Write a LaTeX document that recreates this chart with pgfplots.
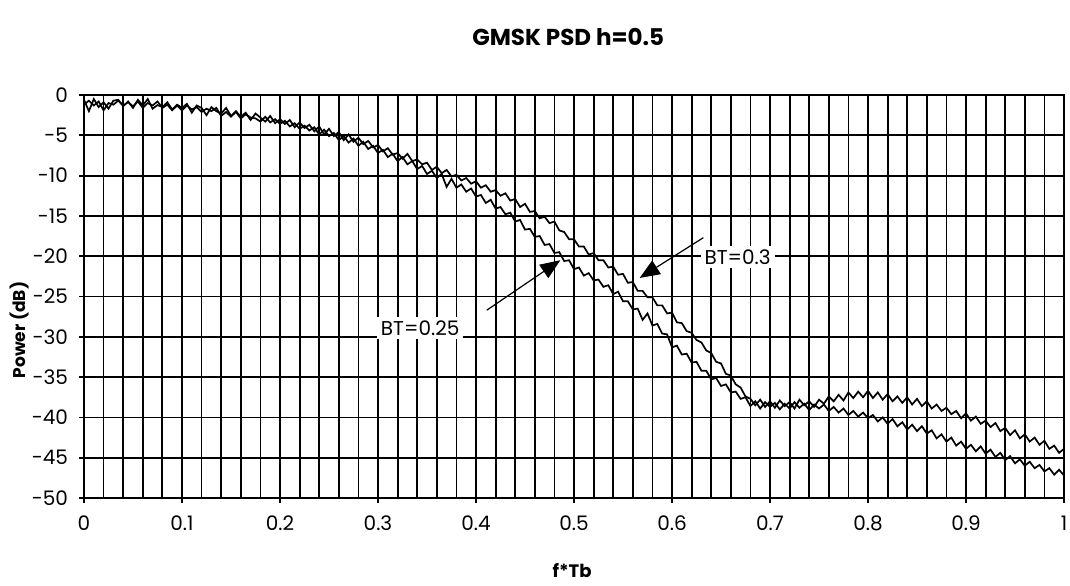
\documentclass[border=0pt]{standalone}
\usepackage{fontspec}
\setmainfont{Poppins}
\usepackage{pgfplots}
\pgfplotsset{compat=1.18}
\usepackage{pgfplotstable}
\usetikzlibrary{arrows.meta}

% BT=0.3 (upper curve in the roll-off region)
\pgfplotstableread{
x y
0.000 -0.6
0.005 -2.0
0.010 -0.5
0.015 -1.5
0.020 -0.9
0.025 -1.7
0.030 -0.7
0.035 -0.6
0.040 -1.4
0.045 -0.8
0.050 -1.6
0.055 -0.6
0.060 -1.3
0.065 -0.5
0.070 -1.7
0.075 -1.25
0.080 -1.5
0.085 -0.9
0.090 -1.8
0.095 -1.2
0.100 -1.6
0.105 -1.1
0.110 -2.2
0.115 -1.3
0.120 -1.6
0.125 -2.5
0.130 -1.5
0.135 -2.0
0.140 -2.3
0.145 -1.6
0.150 -2.6
0.155 -2.0
0.160 -2.7
0.165 -2.2
0.170 -3.1
0.175 -2.3
0.180 -2.8
0.185 -3.3
0.190 -2.6
0.195 -3.5
0.200 -3.0
0.205 -3.6
0.210 -3.1
0.215 -4.0
0.220 -3.4
0.225 -4.1
0.230 -3.7
0.235 -4.5
0.240 -3.9
0.245 -4.9
0.250 -4.2
0.255 -5.1
0.260 -4.6
0.265 -5.6
0.270 -4.9
0.275 -5.8
0.280 -5.3
0.285 -6.1
0.290 -5.7
0.295 -6.5
0.300 -6.2
0.305 -7.0
0.310 -6.6
0.315 -7.4
0.320 -7.2
0.325 -7.9
0.330 -7.3
0.335 -8.2
0.340 -8.0
0.345 -8.6
0.350 -8.4
0.355 -9.3
0.360 -8.9
0.365 -9.7
0.370 -9.3
0.375 -10.1
0.380 -9.9
0.385 -10.6
0.390 -10.3
0.395 -11.0
0.400 -10.7
0.405 -11.5
0.410 -11.2
0.415 -12.0
0.420 -11.8
0.425 -12.5
0.430 -12.2
0.435 -13.1
0.440 -12.9
0.445 -13.9
0.450 -13.5
0.455 -14.5
0.460 -14.4
0.465 -15.3
0.470 -15.1
0.475 -15.9
0.480 -15.7
0.485 -16.8
0.490 -17.0
0.495 -17.9
0.500 -17.9
0.505 -18.8
0.510 -18.8
0.515 -19.8
0.520 -19.6
0.525 -20.5
0.530 -20.5
0.535 -21.4
0.540 -21.3
0.545 -22.3
0.550 -22.2
0.555 -23.3
0.560 -23.2
0.565 -24.3
0.570 -24.3
0.575 -25.1
0.580 -25.1
0.585 -26.1
0.590 -26.1
0.595 -27.1
0.600 -27.0
0.605 -28.2
0.610 -28.3
0.615 -29.3
0.620 -29.5
0.625 -30.4
0.630 -30.7
0.635 -31.7
0.640 -32.0
0.645 -33.1
0.650 -33.3
0.655 -34.6
0.660 -34.8
0.665 -35.9
0.670 -36.3
0.675 -37.4
0.680 -37.7
0.685 -38.5
0.690 -37.8
0.695 -38.7
0.700 -38.0
0.705 -38.8
0.710 -37.9
0.715 -38.6
0.720 -38.1
0.725 -38.9
0.730 -37.8
0.735 -38.5
0.740 -38.0
0.745 -38.7
0.750 -37.8
0.755 -38.3
0.760 -37.4
0.765 -38.0
0.770 -37.2
0.775 -37.9
0.780 -36.9
0.785 -37.6
0.790 -36.8
0.795 -37.5
0.800 -36.7
0.805 -37.6
0.810 -36.9
0.815 -37.8
0.820 -37.1
0.825 -38.0
0.830 -37.4
0.835 -38.2
0.840 -37.5
0.845 -38.4
0.850 -37.7
0.855 -38.6
0.860 -38.0
0.865 -38.9
0.870 -38.4
0.875 -39.2
0.880 -38.8
0.885 -39.6
0.890 -39.2
0.895 -40.1
0.900 -39.5
0.905 -40.4
0.910 -39.9
0.915 -40.8
0.920 -40.4
0.925 -41.2
0.930 -40.7
0.935 -41.7
0.940 -41.3
0.945 -42.2
0.950 -41.6
0.955 -42.6
0.960 -42.1
0.965 -43.0
0.970 -42.5
0.975 -43.4
0.980 -42.9
0.985 -43.9
0.990 -43.5
0.995 -44.4
1.000 -43.9
}\btthree

% BT=0.25 (lower curve in the roll-off region)
\pgfplotstableread{
x y
0.000 -1.2
0.005 -0.7
0.010 -1.3
0.015 -0.8
0.020 -1.9
0.025 -1.0
0.030 -1.2
0.035 -0.7
0.040 -1.3
0.045 -0.9
0.050 -1.4
0.055 -0.8
0.060 -1.6
0.065 -1.0
0.070 -1.3
0.075 -0.8
0.080 -1.6
0.085 -1.2
0.090 -1.9
0.095 -1.3
0.100 -1.9
0.105 -1.3
0.110 -1.8
0.115 -1.5
0.120 -2.1
0.125 -1.7
0.130 -2.0
0.135 -1.6
0.140 -2.6
0.145 -2.1
0.150 -2.7
0.155 -2.1
0.160 -2.9
0.165 -2.4
0.170 -2.8
0.175 -2.9
0.180 -3.3
0.185 -2.7
0.190 -3.4
0.195 -3.0
0.200 -3.6
0.205 -3.2
0.210 -3.9
0.215 -3.5
0.220 -4.2
0.225 -3.8
0.230 -4.4
0.235 -4.0
0.240 -4.9
0.245 -4.3
0.250 -5.1
0.255 -4.7
0.260 -5.6
0.265 -5.1
0.270 -5.9
0.275 -5.4
0.280 -6.3
0.285 -5.8
0.290 -6.7
0.295 -6.3
0.300 -7.2
0.305 -6.8
0.310 -7.7
0.315 -7.3
0.320 -8.2
0.325 -7.7
0.330 -8.6
0.335 -8.2
0.340 -9.2
0.345 -8.8
0.350 -9.8
0.355 -9.4
0.360 -10.3
0.365 -9.8
0.370 -11.4
0.375 -10.4
0.380 -11.5
0.385 -11.1
0.390 -12.0
0.395 -11.6
0.400 -12.6
0.405 -12.4
0.410 -13.4
0.415 -13.0
0.420 -14.1
0.425 -13.9
0.430 -14.8
0.435 -14.6
0.440 -15.7
0.445 -15.5
0.450 -16.7
0.455 -16.6
0.460 -17.6
0.465 -17.5
0.470 -18.6
0.475 -18.5
0.480 -19.6
0.485 -19.5
0.490 -20.6
0.495 -20.5
0.500 -21.6
0.505 -21.4
0.510 -22.4
0.515 -22.1
0.520 -23.0
0.525 -22.9
0.530 -23.8
0.535 -23.6
0.540 -24.7
0.545 -24.4
0.550 -25.6
0.555 -25.6
0.560 -26.6
0.565 -26.5
0.570 -27.9
0.575 -27.1
0.580 -28.6
0.585 -28.4
0.590 -29.6
0.595 -29.7
0.600 -31.3
0.605 -31.1
0.610 -32.2
0.615 -32.1
0.620 -33.2
0.625 -33.1
0.630 -34.2
0.635 -34.2
0.640 -35.3
0.645 -35.1
0.650 -36.1
0.655 -35.9
0.660 -36.9
0.665 -36.8
0.670 -37.7
0.675 -37.5
0.680 -38.6
0.685 -38.0
0.690 -38.9
0.695 -38.1
0.700 -38.7
0.705 -38.2
0.710 -39.0
0.715 -38.3
0.720 -38.9
0.725 -38.1
0.730 -38.8
0.735 -38.3
0.740 -39.1
0.745 -38.4
0.750 -38.9
0.755 -38.4
0.760 -39.2
0.765 -38.7
0.770 -39.4
0.775 -38.9
0.780 -39.7
0.785 -39.2
0.790 -39.9
0.795 -39.4
0.800 -40.1
0.805 -39.7
0.810 -40.5
0.815 -40.0
0.820 -40.8
0.825 -40.2
0.830 -41.1
0.835 -40.6
0.840 -41.5
0.845 -40.9
0.850 -41.7
0.855 -41.1
0.860 -42.0
0.865 -41.6
0.870 -42.6
0.875 -42.1
0.880 -43.0
0.885 -42.5
0.890 -43.5
0.895 -43.0
0.900 -43.9
0.905 -43.4
0.910 -44.2
0.915 -43.6
0.920 -44.5
0.925 -44.0
0.930 -44.9
0.935 -44.4
0.940 -45.3
0.945 -44.8
0.950 -45.7
0.955 -45.2
0.960 -46.0
0.965 -45.5
0.970 -46.3
0.975 -45.9
0.980 -46.7
0.985 -46.3
0.990 -47.1
0.995 -46.5
1.000 -47.2
}\bttwofive

\begin{document}
\begin{tikzpicture}
\begin{axis}[
    width=490pt, height=201.5pt, scale only axis,
    xmin=0, xmax=1, ymin=-50, ymax=0,
    xtick={0,0.1,0.2,0.3,0.4,0.5,0.6,0.7,0.8,0.9,1},
    xticklabels={0,0.1,0.2,0.3,0.4,0.5,0.6,0.7,0.8,0.9,1},
    ytick={-50,-45,-40,-35,-30,-25,-20,-15,-10,-5,0},
    yticklabels={-50,-45,-40,-35,-30,-25,-20,-15,-10,-5,0},
    xtick pos=bottom, ytick pos=left,
    minor x tick num=4,
    xmajorgrids, xminorgrids, ymajorgrids,
    major grid style={black, line width=0.9pt},
    minor grid style={black, line width=0.9pt},
    axis line style={black, line width=0.9pt},
    tick style={black, line width=0.9pt},
    tick align=outside, major tick length=2.5pt, minor tick length=0pt,
    tick label style={font=\fontsize{10}{12}\selectfont},
    xticklabel style={yshift=-3pt},
    yticklabel style={xshift=-2pt},
    title={\bfseries GMSK PSD h=0.5},
    title style={at={(0.494,1)}, anchor=center, yshift=23pt, font=\fontsize{11.5}{13}\selectfont},
    xlabel={\bfseries f*Tb},
    xlabel style={at={(0.498,0)}, anchor=center, yshift=-36.5pt, font=\fontsize{9}{11}\selectfont},
    ylabel={\bfseries Power (dB)},
    ylabel style={at={(axis description cs:-0.0653,0.417)}, anchor=center, font=\fontsize{8.5}{10}\selectfont},
]
\addplot[black, line width=0.85pt] table {\btthree};
\addplot[black, line width=0.85pt] table {\bttwofive};

\node[fill=white, inner sep=2pt, font=\fontsize{10}{12}\selectfont] at (axis cs:0.667,-20.1) {BT=0.3};
\draw[line width=0.6pt, -{Triangle[length=10pt, width=8pt]}] (axis cs:0.632,-17.7) -- (axis cs:0.567,-22.7);
\node[fill=white, inner sep=2pt, font=\fontsize{10}{12}\selectfont] at (axis cs:0.343,-28.9) {BT=0.25};
\draw[line width=0.6pt, -{Triangle[length=10pt, width=8pt]}] (axis cs:0.411,-26.7) -- (axis cs:0.486,-20.5);

\coordinate (SW) at (rel axis cs:0,0);
\coordinate (NE) at (rel axis cs:1,1);
\end{axis}
\pgfresetboundingbox
\path[use as bounding box] ([xshift=-42pt,yshift=-43.5pt]SW) rectangle ([xshift=3pt,yshift=47.5pt]NE);
\end{tikzpicture}
\end{document}
